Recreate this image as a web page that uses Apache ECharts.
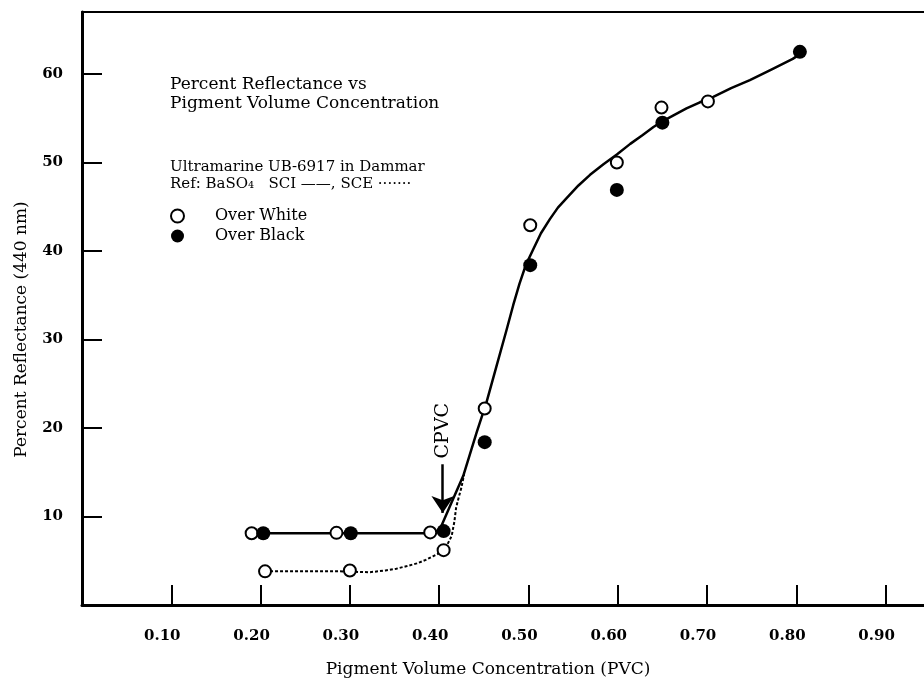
<!DOCTYPE html>
<html>
<head>
<meta charset="utf-8">
<script src="https://cdn.jsdelivr.net/npm/echarts@6/dist/echarts.min.js"></script>
<style>
html,body{margin:0;padding:0;background:#fff;}
#chart{width:924px;height:683px;}
</style>
</head>
<body>
<div id="chart"></div>
<script>
// ---- data ----
const xTicks = [0.1, 0.2, 0.3, 0.4, 0.5, 0.6, 0.7, 0.8, 0.9];
const yTicks = [10, 20, 30, 40, 50, 60];

const overWhite = [
  [0.19, 8.1], [0.285, 8.15], [0.39, 8.2],
  [0.205, 3.8], [0.30, 3.9], [0.405, 6.2],
  [0.451, 22.2], [0.502, 42.9], [0.599, 50.0], [0.649, 56.2], [0.701, 56.9]
];
const overBlack = [
  [0.203, 8.1], [0.301, 8.1], [0.405, 8.35],
  [0.451, 18.4], [0.502, 38.4], [0.599, 46.9], [0.650, 54.5], [0.804, 62.5]
];
// SCI (solid) curve
const sciCurve = [
  [0.19, 8.1], [0.30, 8.1], [0.395, 8.1], [0.401, 8.6], [0.414, 11.6], [0.427, 14.6],
  [0.442, 19.5], [0.453, 22.9], [0.464, 26.9], [0.475, 30.9], [0.483, 33.9], [0.490, 36.3],
  [0.497, 38.4], [0.505, 40.1], [0.514, 42.0], [0.524, 43.6], [0.533, 44.9], [0.543, 46.0],
  [0.556, 47.4], [0.569, 48.6], [0.584, 49.8], [0.599, 50.9], [0.614, 52.1], [0.628, 53.1],
  [0.640, 54.0], [0.651, 54.7], [0.664, 55.4], [0.677, 56.1], [0.692, 56.8], [0.707, 57.4],
  [0.727, 58.4], [0.748, 59.3], [0.772, 60.5], [0.796, 61.7], [0.805, 62.3]
];
// SCE (dotted) curve
const sceCurve = [
  [0.205, 3.8], [0.289, 3.8], [0.322, 3.7], [0.340, 3.9], [0.352, 4.1], [0.364, 4.4],
  [0.375, 4.7], [0.385, 5.1], [0.393, 5.5], [0.399, 5.8], [0.404, 6.2], [0.409, 6.8],
  [0.414, 7.8], [0.417, 9.4], [0.419, 11.0], [0.422, 12.2], [0.425, 13.3], [0.428, 14.8]
];
const cpvcX = 0.404;
const cpvcLabelY = 19.7;
const cpvcArrowFrom = 15.9;
const cpvcArrowTo = 10.4;

const FONT = 'DejaVu Serif';
const chart = echarts.init(document.getElementById('chart'));
chart.setOption({
  animation: false,
  backgroundColor: '#fff',
  title: [
    {
      text: 'Percent Reflectance vs\nPigment Volume Concentration',
      left: 170, top: 75, padding: 0,
      textStyle: {fontFamily: FONT, fontSize: 17, fontWeight: 'normal', color: '#000', lineHeight: 19}
    },
    {
      text: 'Ultramarine UB-6917 in Dammar\nRef: BaSO\u2084   SCI \u2014\u2014, SCE \u00b7\u00b7\u00b7\u00b7\u00b7\u00b7\u00b7',
      left: 170, top: 159, padding: 0,
      textStyle: {fontFamily: FONT, fontSize: 15, fontWeight: 'normal', color: '#000', lineHeight: 17}
    }
  ],
  legend: {
    data: ['Over White', 'Over Black'],
    orient: 'vertical',
    left: 170, top: 208,
    padding: 0,
    itemWidth: 13, itemHeight: 13, itemGap: 4,
    icon: 'circle',
    textStyle: {fontFamily: FONT, fontSize: 16, color: '#000', padding: [0, 0, 0, 26]}
  },
  grid: {left: 82, right: 0, top: 12, bottom: 78, containLabel: false},
  xAxis: [
    {
      type: 'value', min: 0, max: 0.943, position: 'bottom',
      name: 'Pigment Volume Concentration (PVC)',
      nameLocation: 'middle', nameGap: 56,
      nameTextStyle: {fontFamily: FONT, fontSize: 17, color: '#000', padding: [0, 30, 0, 0]},
      axisLine: {show: true, lineStyle: {color: '#000', width: 3}},
      axisTick: {show: true, inside: true, length: 20, customValues: xTicks, lineStyle: {color: '#000', width: 2}},
      axisLabel: {customValues: xTicks, margin: 24, fontFamily: FONT, fontSize: 15, fontWeight: 'bold', color: '#000',
        padding: [0, 18, 0, 0], formatter: v => v.toFixed(2)},
      splitLine: {show: false}
    },
    {
      type: 'value', min: 0, max: 0.943, position: 'top',
      axisLine: {show: true, lineStyle: {color: '#000', width: 2}},
      axisTick: {show: false}, axisLabel: {show: false}, splitLine: {show: false}
    }
  ],
  yAxis: {
    type: 'value', min: 0, max: 67,
    name: 'Percent Reflectance (440 nm)',
    nameLocation: 'middle', nameGap: 52, nameRotate: 90,
    nameTextStyle: {fontFamily: FONT, fontSize: 17, color: '#000', padding: [0, 42, 0, 0]},
    axisLine: {show: true, lineStyle: {color: '#000', width: 3}},
    axisTick: {show: true, inside: true, length: 20, customValues: yTicks, lineStyle: {color: '#000', width: 2}},
    axisLabel: {customValues: yTicks, margin: 19, fontFamily: FONT, fontSize: 15, fontWeight: 'bold', color: '#000'},
    splitLine: {show: false}
  },
  series: [
    {
      name: 'SCI', type: 'line', data: sciCurve, showSymbol: false, symbol: 'none',
      smooth: false, z: 2,
      lineStyle: {color: '#000', width: 2.5},
      markPoint: {
        silent: true, symbol: 'circle', symbolSize: 1,
        itemStyle: {color: 'rgba(0,0,0,0)'},
        label: {show: true, position: 'inside', formatter: 'CPVC', rotate: 90,
          fontFamily: FONT, fontSize: 19, color: '#000'},
        data: [{coord: [cpvcX, cpvcLabelY]}]
      },
      markLine: {
        silent: true, symbol: ['none', 'arrow'], symbolSize: 17,
        label: {show: false},
        lineStyle: {color: '#000', width: 2.5, type: 'solid', opacity: 1},
        emphasis: {disabled: true},
        data: [[{coord: [cpvcX, cpvcArrowFrom]}, {coord: [cpvcX, cpvcArrowTo]}]]
      }
    },
    {
      name: 'SCE', type: 'line', data: sceCurve, showSymbol: false, symbol: 'none',
      smooth: false, z: 2,
      lineStyle: {color: '#000', width: 2, type: [3, 2]}
    },
    {
      name: 'Over White', type: 'scatter', data: overWhite, symbol: 'circle', symbolSize: 12, z: 5,
      itemStyle: {color: '#fff', borderColor: '#000', borderWidth: 2, opacity: 1}
    },
    {
      name: 'Over Black', type: 'scatter', data: overBlack, symbol: 'circle', symbolSize: 14, z: 6,
      itemStyle: {color: '#000', borderColor: '#000', borderWidth: 0, opacity: 1}
    }
  ]
});
</script>
</body>
</html>
